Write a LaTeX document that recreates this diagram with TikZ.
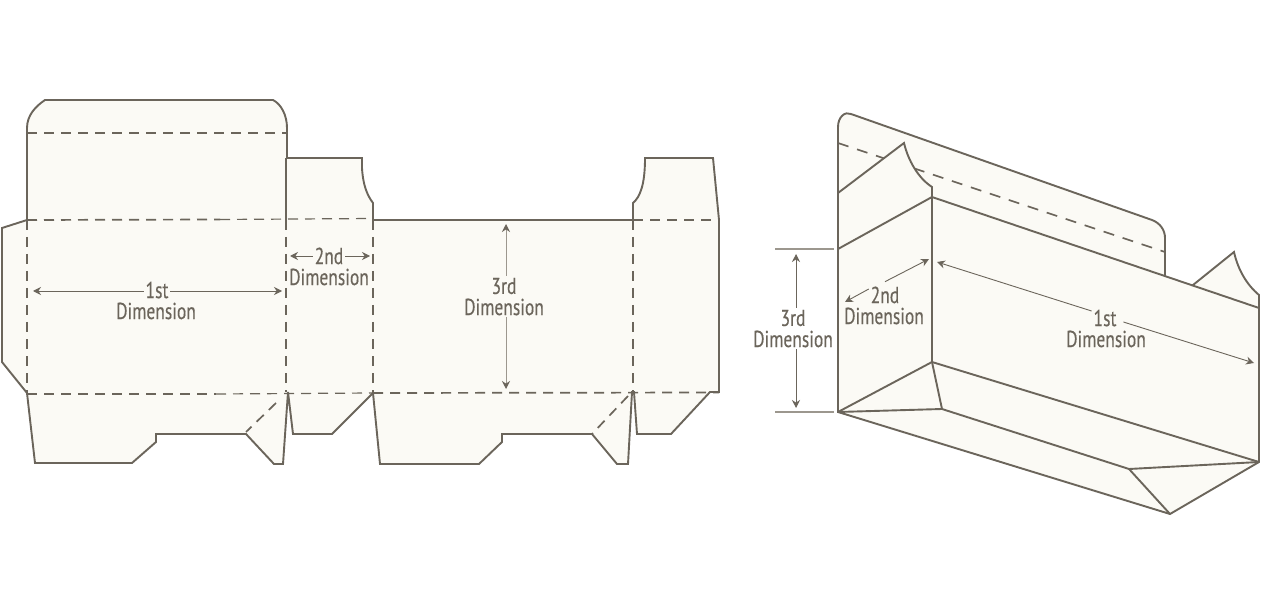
\documentclass[tikz,border=0pt]{standalone}
\usepackage{fontspec}
\setmainfont[FakeStretch=0.76,FakeBold=0.35]{PT Sans}
\usetikzlibrary{arrows.meta}
\definecolor{ink}{HTML}{6B655B}
\definecolor{soft}{HTML}{9C978E}
\definecolor{paper}{HTML}{FBFAF5}
\tikzset{
  cut/.style={draw=ink,line width=1.9pt,line join=miter,fill=paper},
  edge/.style={draw=ink,line width=1.9pt},
  fold/.style={draw=ink,line width=1.7pt,dash pattern=on 10pt off 7pt},
  thinfold/.style={draw=ink,line width=1.2pt,dash pattern=on 10pt off 7pt},
  backfold/.style={draw=ink,line width=1.7pt,dash pattern=on 11pt off 9pt},
  dimarrow/.style={draw=ink,line width=0.9pt,-{Stealth[length=8pt,width=8pt]}},
  softarrow/.style={draw=soft,line width=1pt,-{Stealth[length=8pt,width=8pt,color=ink]}},
  tick/.style={draw=soft,line width=1.2pt},
  lab/.style={text=ink,font=\fontsize{23}{23}\selectfont,inner sep=0pt,outer sep=2pt,anchor=center}
}
\begin{document}
\begin{tikzpicture}[x=1pt,y=-1pt]
\useasboundingbox (0,0) rectangle (1261,612);
\fill[white] (0,0) rectangle (1261,612);
% ---------- flat blank ----------
\path[cut] (27,133) -- (27,128) .. controls (27,115) and (36,106) .. (45,100)
  -- (273,100) .. controls (281,104) and (287,115) .. (287,128)
  -- (287,158) -- (362,158) -- (362,168) .. controls (363,185) and (367,195) .. (373,203)
  -- (373,220) -- (633,220) -- (633,203) .. controls (640,197) and (645,185) .. (645,158)
  -- (713,158) -- (719,220) -- (719,392) -- (710,392) -- (671,434) -- (637,434) -- (634,392)
  -- (632,392) -- (628,464) -- (617,464) -- (592,434) -- (502,434) -- (502,442) -- (479,464)
  -- (380,464) -- (373,393) -- (332,434) -- (293,434) -- (288,392) -- (283,464) -- (274,464)
  -- (246,434) -- (156,434) -- (156,442) -- (132,463) -- (35,463) -- (27,393)
  -- (2,362) -- (2,228) -- (27,220) -- cycle;
\draw[edge] (286,158) -- (286,220);
\draw[fold] (27,133) -- (287,133);
\draw[fold] (27,220) -- (220,219.5);
\draw[thinfold] (220,219.5) -- (373,218.5);
\draw[fold] (633,220) -- (719,220);
\draw[thinfold] (27,220) -- (27,393);
\draw[fold] (286,220) -- (286,392);
\draw[fold] (373,220) -- (373,393);
\draw[fold] (633,220) -- (633,392);
\draw[fold] (27,394) -- (216,394);
\draw[thinfold] (216,394) -- (373,393);
\draw[fold] (373,393) -- (719,392.5);
\draw[fold] (276,403) -- (246,432);
\draw[fold] (628,396) -- (592,434);
% labels, flat
\node[lab] (fa) at (157,290) {1st};
\node[lab] (fb) at (156,311) {Dimension};
\node[lab] (sa) at (329,256) {2nd};
\node[lab] (sb) at (329,277) {Dimension};
\node[lab] (ta) at (504,286) {3rd};
\node[lab] (tb) at (504,307) {Dimension};
\coordinate (fl) at (33,291); \coordinate (fr) at (282,291);
\coordinate (sl) at (290,256); \coordinate (sr) at (370,256);
\coordinate (tt) at (506,224); \coordinate (tu) at (506,389);
\draw[dimarrow] (fa.west |- fl) -- (fl);
\draw[dimarrow] (fa.east |- fr) -- (fr);
\draw[dimarrow] (sa.west |- sl) -- (sl);
\draw[dimarrow] (sa.east |- sr) -- (sr);
\draw[softarrow] (tt |- ta.north) -- (tt);
\draw[softarrow] (tu |- tb.south) -- (tu);
% ---------- folded box ----------
\path[cut] (838,412) -- (838,127) .. controls (838,117) and (845,111) .. (851,114)
  -- (1152,220) .. controls (1160,223) and (1165,230) .. (1165,238) -- (1165,276) -- (1165,300) -- (838,300) -- cycle;
\draw[backfold] (838,143) -- (1165,252);
\path[cut] (1193,285) -- (1234,252) .. controls (1238,270) and (1247,285) .. (1259,295) -- (1259,320) -- (1180,300) -- cycle;
\path[cut] (838,193) -- (904,143) .. controls (908,160) and (918,178) .. (932,187) -- (932,210) -- (838,260) -- cycle;
\path[cut] (838,249) -- (932,197) -- (1259,308) -- (1259,462) -- (1170,514) -- (838,412) -- cycle;
\draw[edge] (932,197) -- (932,362);
\draw[edge] (838,412) -- (932,362) -- (1259,462);
\draw[edge] (932,362) -- (942,409) -- (1129,469) -- (1170,514);
\draw[edge] (838,412) -- (942,409);
\draw[edge] (1129,469) -- (1259,462);
\draw[tick] (775,249) -- (834,249);
\draw[tick] (775,412) -- (834,412);
% labels, folded
\node[lab] (ra) at (793,318) {3rd};
\node[lab] (rb) at (793,339) {Dimension};
\node[lab] (pa) at (885,295) {2nd};
\node[lab] (pb) at (884,316) {Dimension};
\node[lab] (qa) at (1105,318) {1st};
\node[lab] (qb) at (1106,339) {Dimension};
\coordinate (rt) at (796,254); \coordinate (ru) at (796,408);
\coordinate (pt) at (929,259); \coordinate (pu) at (845,302);
\coordinate (qt) at (937,262); \coordinate (qu) at (1254,363);
\draw[dimarrow] (rt |- ra.north) -- (rt);
\draw[dimarrow] (ru |- rb.south) -- (ru);
\draw[dimarrow] ([yshift=3pt]pa.north) -- (pt);
\draw[dimarrow] ([yshift=6pt]pa.west) -- (pu);
\draw[dimarrow] ([yshift=7pt]qa.west) -- (qt);
\draw[dimarrow] ([xshift=5pt,yshift=-4pt]qa.east) -- (qu);
\end{tikzpicture}
\end{document}
